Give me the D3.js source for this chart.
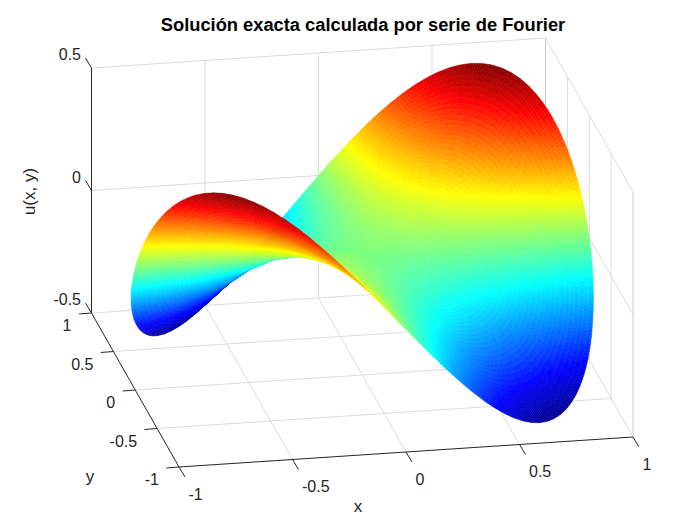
<!DOCTYPE html>
<html><head><meta charset="utf-8">
<style>html,body{margin:0;padding:0;background:#fff}svg{display:block}text{font-family:"Liberation Sans",Arial,sans-serif}</style>
<script src="https://cdn.jsdelivr.net/npm/d3@7/dist/d3.min.js"></script>
</head><body><svg id="c" width="700" height="525"></svg>
<script>
const titleText = "Solución exacta calculada por serie de Fourier";
const xTicks = [-1,-0.5,0,0.5,1];
const yTicks = [-1,-0.5,0,0.5,1];
const zTicks = [-0.5,0,0.5];
const xTickLabels = ["-1","-0.5","0","0.5","1"];
const yTickLabels = ["-1","-0.5","0","0.5","1"];
const zTickLabels = ["-0.5","0","0.5"];
const colorStops = ["#00008f","#0000ff","#00ffff","#ffff00","#ff0000","#800000"];
const colorStopPositions = [-0.5,-0.375,-0.125,0.125,0.375,0.5];
// polar sampling of the surface; columns repeat every half turn
const radii = [0,0.2,0.4,0.6,0.8,1];
const thetaStepDeg = 3;
const uR0 = [0];
const uR02 = [0,.0021,.0042,.0062,.0081,.01,.0118,.0134,.0149,.0162,.0173,.0183,.019,.0196,.0199,.02,.0199,.0196,.019,.0183,.0173,.0162,.0149,.0134,.0118,.01,.0081,.0062,.0042,.0021,0,-.0021,-.0042,-.0062,-.0081,-.01,-.0118,-.0134,-.0149,-.0162,-.0173,-.0183,-.019,-.0196,-.0199,-.02,-.0199,-.0196,-.019,-.0183,-.0173,-.0162,-.0149,-.0134,-.0118,-.01,-.0081,-.0062,-.0042,-.0021];
const uR04 = [0,.0084,.0166,.0247,.0325,.04,.047,.0535,.0595,.0647,.0693,.0731,.0761,.0783,.0796,.08,.0796,.0783,.0761,.0731,.0693,.0647,.0595,.0535,.047,.04,.0325,.0247,.0166,.0084,0,-.0084,-.0166,-.0247,-.0325,-.04,-.047,-.0535,-.0595,-.0647,-.0693,-.0731,-.0761,-.0783,-.0796,-.08,-.0796,-.0783,-.0761,-.0731,-.0693,-.0647,-.0595,-.0535,-.047,-.04,-.0325,-.0247,-.0166,-.0084];
const uR06 = [0,.0188,.0374,.0556,.0732,.09,.1058,.1205,.1338,.1456,.1559,.1644,.1712,.1761,.179,.18,.179,.1761,.1712,.1644,.1559,.1456,.1338,.1205,.1058,.09,.0732,.0556,.0374,.0188,0,-.0188,-.0374,-.0556,-.0732,-.09,-.1058,-.1205,-.1338,-.1456,-.1559,-.1644,-.1712,-.1761,-.179,-.18,-.179,-.1761,-.1712,-.1644,-.1559,-.1456,-.1338,-.1205,-.1058,-.09,-.0732,-.0556,-.0374,-.0188];
const uR08 = [0,.0335,.0666,.0989,.1302,.16,.1881,.2141,.2378,.2589,.2771,.2924,.3043,.313,.3183,.32,.3183,.313,.3043,.2924,.2771,.2589,.2378,.2141,.1881,.16,.1302,.0989,.0666,.0335,0,-.0335,-.0666,-.0989,-.1302,-.16,-.1881,-.2141,-.2378,-.2589,-.2771,-.2924,-.3043,-.313,-.3183,-.32,-.3183,-.313,-.3043,-.2924,-.2771,-.2589,-.2378,-.2141,-.1881,-.16,-.1302,-.0989,-.0666,-.0335];
const uR10 = [0,.0523,.104,.1545,.2034,.25,.2939,.3346,.3716,.4045,.433,.4568,.4755,.4891,.4973,.5,.4973,.4891,.4755,.4568,.433,.4045,.3716,.3346,.2939,.25,.2034,.1545,.104,.0523,0,-.0523,-.104,-.1545,-.2034,-.25,-.2939,-.3346,-.3716,-.4045,-.433,-.4568,-.4755,-.4891,-.4973,-.5,-.4973,-.4891,-.4755,-.4568,-.433,-.4045,-.3716,-.3346,-.2939,-.25,-.2034,-.1545,-.104,-.0523];
const uRows = [uR0,uR02,uR04,uR06,uR08,uR10];

// oblique axes: each data axis contributes a screen offset
const xToSx = d3.scaleLinear().domain([-1,1]).range([-227,227]);
const yToSx = d3.scaleLinear().domain([-1,1]).range([43.75,-43.75]);
const xToSy = d3.scaleLinear().domain([-1,1]).range([15,-15]);
const yToSy = d3.scaleLinear().domain([-1,1]).range([77,-77]);
const zToSy = d3.scaleLinear().domain([-0.5,0.5]).range([0,-245]);
const originX = 362.25, originY = 375;
const P = (x,y,z)=>[originX+xToSx(x)+yToSx(y), originY+xToSy(x)+yToSy(y)+zToSy(z)];
const depth = (x,y,z)=>-10719*x-55615*y+18135*z*2;

const jetRaw = d3.scaleLinear().domain(colorStopPositions).range(colorStops).interpolate(d3.interpolateRgb).clamp(true);
const levels = 128;
const jet = z=>jetRaw(-0.5+(Math.min(levels-1,Math.floor((z+0.5)*levels))+0.5)/levels);

const svg = d3.select("#c");
const gridColor="#dcdcdc", edgeColor="#cccccc", axisColor="#262626";
const line=(a,b,col,w)=>{const p=P(...a),q=P(...b);svg.append("line").attr("x1",p[0]).attr("y1",p[1]).attr("x2",q[0]).attr("y2",q[1]).attr("stroke",col).attr("stroke-width",w||1);};
const zLo=zTicks[0], zHi=zTicks[2];
// grid
xTicks.slice(1,4).forEach(x=>{line([x,-1,zLo],[x,1,zLo],gridColor);line([x,1,zLo],[x,1,zHi],gridColor);});
yTicks.slice(1,4).forEach(y=>{line([-1,y,zLo],[1,y,zLo],gridColor);line([1,y,zLo],[1,y,zHi],gridColor);});
line([-1,1,0],[1,1,0],gridColor);line([1,1,0],[1,-1,0],gridColor);
// box edges
line([-1,1,zHi],[1,1,zHi],gridColor);line([1,1,zHi],[1,-1,zHi],gridColor);
line([1,1,zLo],[1,1,zHi],edgeColor);line([1,-1,zLo],[1,-1,zHi],edgeColor);
line([-1,1,zLo],[1,1,zLo],gridColor);line([1,1,zLo],[1,-1,zLo],gridColor);

// surface cells: each sampled cell is split finely so the colour map reads as smooth shading
const nTheta=120, half=60, cells=[];
const uAt=(row,j)=>{const r=uRows[row];return r.length===1?r[0]:r[j%half];};
const radialSub=10;
for(let i=0;i<radii.length-1;i++){
  const angSub=i<2?2:4;
  for(let j=0;j<nTheta;j++){
    for(let q=0;q<angSub;q++){
      const s0=q/angSub,s1=(q+1)/angSub;
      const a0=(j+s0)*thetaStepDeg*Math.PI/180,a1=(j+s1)*thetaStepDeg*Math.PI/180;
      const u=(t,s)=>{
        const a=uAt(i,j)*(1-t)+uAt(i+1,j)*t, b=uAt(i,j+1)*(1-t)+uAt(i+1,j+1)*t;
        return a*(1-s)+b*s;
      };
      for(let k=0;k<radialSub;k++){
        const t0=k/radialSub,t1=(k+1)/radialSub;
        const r0=radii[i]+(radii[i+1]-radii[i])*t0,r1=radii[i]+(radii[i+1]-radii[i])*t1;
        const c=[[r0,a0,u(t0,s0)],[r1,a0,u(t1,s0)],[r1,a1,u(t1,s1)],[r0,a1,u(t0,s1)]].map(([r,a,z])=>[r*Math.cos(a),r*Math.sin(a),z]);
        const m=c.reduce((acc,p)=>[acc[0]+p[0]/4,acc[1]+p[1]/4,acc[2]+p[2]/4],[0,0,0]);
        cells.push({pts:c.map(p=>P(...p)),d:depth(...m),z:m[2]});
      }
    }
  }
}
cells.sort((a,b)=>a.d-b.d);
svg.append("g").selectAll("polygon").data(cells).join("polygon")
  .attr("points",d=>d.pts.map(p=>p[0].toFixed(1)+","+p[1].toFixed(1)).join(" "))
  .attr("fill",d=>jet(d.z)).attr("stroke",d=>jet(d.z)).attr("stroke-width",0.5).attr("stroke-linejoin","round");

// axes
line([-1,1,zLo],[-1,1,zHi],axisColor);line([-1,1,zLo],[-1,-1,zLo],axisColor);line([-1,-1,zLo],[1,-1,zLo],axisColor);
const tickLine=(p,dx,dy)=>svg.append("line").attr("x1",p[0]).attr("y1",p[1]).attr("x2",p[0]+dx).attr("y2",p[1]+dy).attr("stroke",axisColor).attr("stroke-width",1);
const label=(s,x,y,anchor,size)=>svg.append("text").attr("x",x).attr("y",y).attr("dy","0.35em").attr("text-anchor",anchor).attr("font-size",size||16).attr("fill",axisColor).text(s);
xTicks.forEach((v,i)=>{const p=P(v,-1,zLo);tickLine(p,6,10);label(xTickLabels[i],p[0]+9.5,p[1]+27,"start");});
yTicks.forEach((v,i)=>{const p=P(-1,v,zLo);tickLine(p,-12.7,1);label(yTickLabels[i],p[0]-20,p[1]+12.5,"end");});
zTicks.forEach((v,i)=>{const p=P(-1,1,v);tickLine(p,-6,-10);label(zTickLabels[i],p[0]-10.5,p[1]-13.5,"end");});
label("x",358,506,"middle",17);
label("y",90,476,"middle",17);
svg.append("text").attr("transform","translate(29.5,191.5) rotate(-90)").attr("text-anchor","middle").attr("dy","0.35em").attr("font-size",17).attr("fill",axisColor).text("u(x, y)");
svg.append("text").attr("x",363).attr("y",25).attr("dy","0.35em").attr("text-anchor","middle").attr("font-size",18.3).attr("font-weight","bold").attr("fill","#000").text(titleText);
</script></body></html>
